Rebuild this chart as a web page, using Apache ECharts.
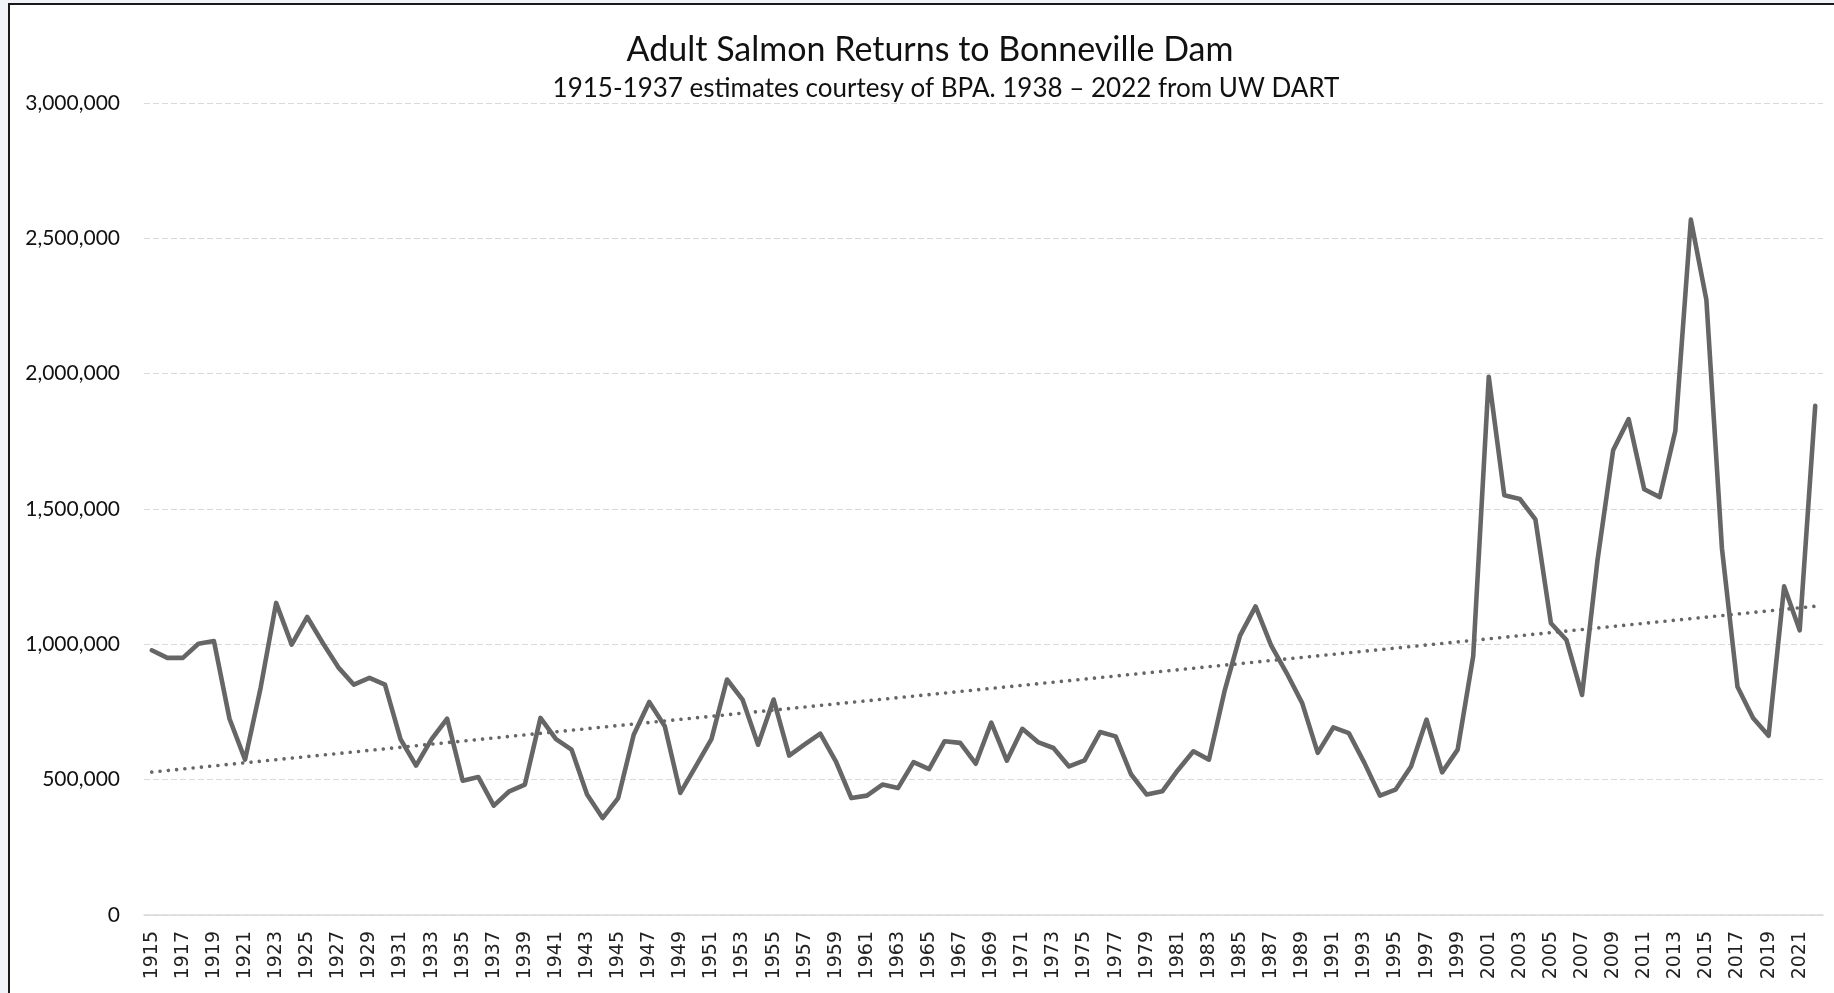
<!DOCTYPE html>
<html>
<head>
<meta charset="utf-8">
<script src="https://cdn.jsdelivr.net/npm/echarts@6/dist/echarts.min.js"></script>
<style>
html,body{margin:0;padding:0;background:#f0f4f8;overflow:hidden;}
#wrap{position:absolute;left:8px;top:3px;width:1840px;height:1000px;border-left:2px solid #1a1a1a;border-top:2px solid #1a1a1a;background:#fff;overflow:hidden;}
#chart{position:absolute;left:0;top:0;width:1824px;height:988px;}
</style>
</head>
<body>
<div id="wrap"><div id="chart"></div></div>
<script>
const titleText = 'Adult Salmon Returns to Bonneville Dam';
const subtitleText = '1915-1937 estimates courtesy of BPA. 1938 \u2013 2022 from UW DART';

const years = [
  '1915','1916','1917','1918','1919','1920','1921','1922','1923','1924',
  '1925','1926','1927','1928','1929','1930','1931','1932','1933','1934',
  '1935','1936','1937','1938','1939','1940','1941','1942','1943','1944',
  '1945','1946','1947','1948','1949','1950','1951','1952','1953','1954',
  '1955','1956','1957','1958','1959','1960','1961','1962','1963','1964',
  '1965','1966','1967','1968','1969','1970','1971','1972','1973','1974',
  '1975','1976','1977','1978','1979','1980','1981','1982','1983','1984',
  '1985','1986','1987','1988','1989','1990','1991','1992','1993','1994',
  '1995','1996','1997','1998','1999','2000','2001','2002','2003','2004',
  '2005','2006','2007','2008','2009','2010','2011','2012','2013','2014',
  '2015','2016','2017','2018','2019','2020','2021','2022'
];

const returns = [
  978000, 950000, 950000, 1002000, 1012000, 725000, 574000, 839000, 1153000, 999000,
  1101000, 1005000, 915000, 851000, 876000, 851000, 650000, 552000, 650000, 725000,
  496000, 510000, 404000, 457000, 482000, 728000, 650000, 611000, 445000, 358000,
  432000, 666000, 787000, 697000, 451000, 550000, 650000, 870000, 796000, 629000,
  796000, 589000, 630000, 670000, 568000, 432000, 441000, 482000, 469000, 565000,
  539000, 642000, 636000, 559000, 711000, 570000, 688000, 639000, 617000, 549000,
  571000, 676000, 660000, 519000, 445000, 457000, 535000, 605000, 574000, 826000,
  1032000, 1140000, 996000, 894000, 783000, 599000, 693000, 672000, 562000, 441000,
  463000, 549000, 722000, 527000, 611000, 956000, 1988000, 1551000, 1537000, 1462000,
  1078000, 1016000, 813000, 1313000, 1717000, 1832000, 1573000, 1544000, 1788000, 2569000,
  2272000, 1354000, 843000, 728000, 662000, 1214000, 1052000, 1881000
];

const yTicks = [0, 500000, 1000000, 1500000, 2000000, 2500000, 3000000];

// Linear trendline (least squares) over the series, as the spreadsheet computes it
function linearTrend(vals) {
  const n = vals.length;
  let sx = 0, sy = 0, sxx = 0, sxy = 0;
  for (let i = 0; i < n; i++) {
    const x = i + 1;
    sx += x; sy += vals[i]; sxx += x * x; sxy += x * vals[i];
  }
  const b = (n * sxy - sx * sy) / (n * sxx - sx * sx);
  const a = (sy - b * sx) / n;
  return vals.map((_, i) => Math.round(a + b * (i + 1)));
}
const trend = linearTrend(returns);

const chart = echarts.init(document.getElementById('chart'), null, {renderer: 'canvas'});
chart.setOption({
  animation: false,
  backgroundColor: '#ffffff',
  graphic: [
    {type: 'text', x: 920, y: 45,
     style: {text: titleText, font: '34px Lato', fill: '#111111', textAlign: 'center', textVerticalAlign: 'middle'}},
    {type: 'text', x: 936, y: 84,
     style: {text: subtitleText, font: '26px Lato', fill: '#111111', textAlign: 'center', textVerticalAlign: 'middle'}}
  ],
  grid: {left: 134, right: 11, top: 98, bottom: 78, containLabel: false, outerBoundsMode: 'none'},
  xAxis: {
    type: 'category',
    data: years,
    boundaryGap: true,
    axisLine: {show: true, lineStyle: {color: '#d9d9d9', width: 1.5}},
    axisTick: {show: false},
    axisLabel: {interval: 1, rotate: 90, margin: 16, color: '#222222', fontFamily: 'DejaVu Sans', fontSize: 19},
    splitLine: {show: false}
  },
  yAxis: {
    type: 'value',
    min: yTicks[0],
    max: yTicks[yTicks.length - 1],
    interval: yTicks[1] - yTicks[0],
    axisLine: {show: false},
    axisTick: {show: false},
    axisLabel: {margin: 24, color: '#111111', fontFamily: 'Lato', fontSize: 21,
                formatter: v => v.toLocaleString('en-US')},
    splitLine: {show: true, lineStyle: {color: '#d9d9d9', width: 1.2, type: [6, 3]}}
  },
  series: [
    {
      name: 'Returns', type: 'line', data: returns,
      showSymbol: false, symbol: 'none',
      lineStyle: {color: '#666666', width: 4.6, join: 'round', cap: 'round'},
      z: 3
    },
    {
      name: 'Trend', type: 'line', data: trend,
      showSymbol: false, symbol: 'none',
      lineStyle: {color: '#666666', width: 3.6, type: [0.01, 8.3], cap: 'round'},
      z: 4
    }
  ]
});
</script>
</body>
</html>
